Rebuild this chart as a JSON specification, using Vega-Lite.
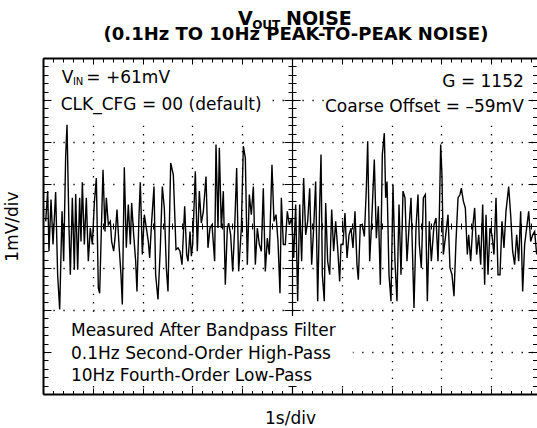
{
  "$schema": "https://vega.github.io/schema/vega-lite/v6.json",
  "width": 494,
  "height": 336,
  "autosize": {"type": "none"},
  "padding": {"left": 43, "top": 58, "right": 0, "bottom": 34},
  "background": "white",
  "config": {
    "view": {"stroke": null},
    "axis": {"labels": false, "domainColor": "black", "tickColor": "black", "gridColor": "black", "grid": false, "ticks": true, "tickWidth": 1, "titleFont": "DejaVu Sans", "titleFontSize": 17, "titleFontWeight": "normal", "titleColor": "black"}
  },
  "datasets": {
    "noise": [
      {"t":0.054,"v":0.11},{"t":0.094,"v":0.83},{"t":0.120,"v":-0.60},{"t":0.161,"v":0.63},{"t":0.201,"v":-0.44},{"t":0.254,"v":0.81},{"t":0.294,"v":-1.16},{"t":0.335,"v":-1.99},{"t":0.382,"v":0.35},{"t":0.415,"v":-0.84},{"t":0.455,"v":1.66},{"t":0.482,"v":2.41},{"t":0.522,"v":-0.05},{"t":0.549,"v":-1.16},{"t":0.589,"v":0.67},{"t":0.629,"v":-1.04},{"t":0.656,"v":0.76},{"t":0.696,"v":-1.04},{"t":0.736,"v":0.67},{"t":0.763,"v":-0.37},{"t":0.790,"v":1.04},{"t":0.830,"v":-0.44},{"t":0.870,"v":0.67},{"t":0.910,"v":-0.84},{"t":0.950,"v":-0.05},{"t":0.991,"v":-0.44},{"t":1.031,"v":0.55},{"t":1.071,"v":1.14},{"t":1.111,"v":-1.48},{"t":1.138,"v":-1.60},{"t":1.178,"v":0.19},{"t":1.205,"v":1.34},{"t":1.245,"v":-0.13},{"t":1.272,"v":0.67},{"t":1.312,"v":0.03},{"t":1.352,"v":0.11},{"t":1.379,"v":-0.37},{"t":1.419,"v":-0.60},{"t":1.446,"v":-0.29},{"t":1.486,"v":0.39},{"t":1.526,"v":-0.44},{"t":1.566,"v":-1.16},{"t":1.593,"v":-1.87},{"t":1.633,"v":1.40},{"t":1.673,"v":-0.52},{"t":1.713,"v":0.51},{"t":1.754,"v":-0.44},{"t":1.780,"v":0.55},{"t":1.821,"v":-0.21},{"t":1.861,"v":-0.84},{"t":1.887,"v":-1.56},{"t":1.928,"v":0.27},{"t":1.954,"v":1.04},{"t":1.995,"v":-0.68},{"t":2.035,"v":0.27},{"t":2.075,"v":-0.05},{"t":2.115,"v":-0.37},{"t":2.142,"v":-0.76},{"t":2.182,"v":0.11},{"t":2.229,"v":0.94},{"t":2.262,"v":-1.16},{"t":2.309,"v":-1.75},{"t":2.356,"v":-0.52},{"t":2.396,"v":0.94},{"t":2.436,"v":0.43},{"t":2.477,"v":-1.00},
      {"t":2.510,"v":-1.56},{"t":2.564,"v":1.50},{"t":2.617,"v":1.22},{"t":2.671,"v":-0.56},{"t":2.711,"v":-0.52},{"t":2.751,"v":-0.60},{"t":2.791,"v":-0.92},{"t":2.845,"v":0.47},{"t":2.885,"v":-0.68},{"t":2.912,"v":-0.84},{"t":2.952,"v":-0.13},{"t":2.979,"v":-0.72},{"t":3.005,"v":-0.44},{"t":3.059,"v":1.30},{"t":3.099,"v":-0.60},{"t":3.139,"v":0.83},{"t":3.179,"v":0.07},{"t":3.220,"v":0.35},{"t":3.273,"v":1.18},{"t":3.313,"v":-0.52},{"t":3.353,"v":-0.05},{"t":3.394,"v":0.03},{"t":3.447,"v":-0.84},{"t":3.474,"v":1.94},{"t":3.514,"v":-0.05},{"t":3.541,"v":1.86},{"t":3.581,"v":-0.05},{"t":3.621,"v":0.83},{"t":3.661,"v":-1.40},{"t":3.702,"v":-0.05},{"t":3.728,"v":0.07},{"t":3.768,"v":-0.21},{"t":3.809,"v":-1.08},{"t":3.849,"v":-0.05},{"t":3.889,"v":1.38},{"t":3.929,"v":-1.08},{"t":3.983,"v":-0.05},{"t":4.023,"v":1.90},{"t":4.063,"v":1.62},{"t":4.103,"v":-0.92},{"t":4.143,"v":0.75},{"t":4.183,"v":0.27},{"t":4.224,"v":0.94},{"t":4.264,"v":-0.92},{"t":4.304,"v":-0.05},{"t":4.344,"v":-0.44},{"t":4.384,"v":-0.60},{"t":4.424,"v":0.90},{"t":4.464,"v":-1.08},{"t":4.505,"v":-0.29},{"t":4.545,"v":-0.68},{"t":4.598,"v":1.46},{"t":4.638,"v":0.11},{"t":4.679,"v":0.27},{"t":4.719,"v":-0.37},{"t":4.759,"v":-1.60},{"t":4.786,"v":0.67},{"t":4.826,"v":-0.44},{"t":4.866,"v":-0.44},{"t":4.906,"v":0.35},{"t":4.946,"v":0.03},
      {"t":4.994,"v":0.19},{"t":5.034,"v":-0.76},{"t":5.074,"v":0.51},{"t":5.114,"v":-1.79},{"t":5.154,"v":0.51},{"t":5.194,"v":-0.84},{"t":5.234,"v":1.14},{"t":5.275,"v":-0.21},{"t":5.315,"v":0.11},{"t":5.355,"v":0.90},{"t":5.395,"v":-0.92},{"t":5.435,"v":-0.05},{"t":5.475,"v":1.06},{"t":5.516,"v":-1.79},{"t":5.556,"v":0.51},{"t":5.583,"v":1.70},{"t":5.609,"v":-1.16},{"t":5.649,"v":-1.79},{"t":5.676,"v":0.55},{"t":5.716,"v":-0.84},{"t":5.757,"v":-1.16},{"t":5.797,"v":0.39},{"t":5.837,"v":-0.60},{"t":5.877,"v":0.11},{"t":5.917,"v":-0.52},{"t":5.957,"v":-1.32},{"t":5.984,"v":-0.44},{"t":6.024,"v":-0.44},{"t":6.064,"v":0.31},{"t":6.105,"v":-0.76},{"t":6.145,"v":-0.21},{"t":6.185,"v":-0.05},{"t":6.225,"v":-0.52},{"t":6.265,"v":0.35},{"t":6.305,"v":-0.92},{"t":6.332,"v":-1.28},{"t":6.372,"v":0.03},{"t":6.412,"v":0.03},{"t":6.453,"v":-0.25},{"t":6.493,"v":0.90},{"t":6.520,"v":2.02},{"t":6.560,"v":-0.84},{"t":6.600,"v":0.11},{"t":6.653,"v":1.58},{"t":6.694,"v":-0.29},{"t":6.734,"v":0.47},{"t":6.774,"v":-1.40},{"t":6.814,"v":1.70},{"t":6.854,"v":2.21},{"t":6.881,"v":0.67},{"t":6.908,"v":1.06},{"t":6.948,"v":-1.16},{"t":6.988,"v":-1.79},{"t":7.028,"v":0.98},{"t":7.068,"v":-0.84},{"t":7.108,"v":-1.79},{"t":7.149,"v":0.51},{"t":7.189,"v":-1.16},{"t":7.229,"v":0.83},{"t":7.269,"v":0.67},{"t":7.309,"v":-0.84},{"t":7.349,"v":-0.05},{"t":7.390,"v":0.67},
      {"t":7.450,"v":-1.95},{"t":7.490,"v":-0.05},{"t":7.530,"v":0.75},{"t":7.557,"v":-0.44},{"t":7.597,"v":-1.00},{"t":7.638,"v":0.67},{"t":7.678,"v":0.75},{"t":7.718,"v":-1.79},{"t":7.758,"v":0.11},{"t":7.798,"v":-0.84},{"t":7.852,"v":0.03},{"t":7.892,"v":0.19},{"t":7.932,"v":-0.84},{"t":7.959,"v":0.27},{"t":7.986,"v":1.94},{"t":8.012,"v":1.18},{"t":8.039,"v":-0.68},{"t":8.079,"v":-0.29},{"t":8.133,"v":0.27},{"t":8.173,"v":-1.00},{"t":8.213,"v":-1.16},{"t":8.253,"v":-1.67},{"t":8.293,"v":-0.37},{"t":8.334,"v":0.67},{"t":8.374,"v":0.75},{"t":8.401,"v":0.90},{"t":8.441,"v":0.59},{"t":8.481,"v":0.43},{"t":8.521,"v":-0.68},{"t":8.548,"v":-0.21},{"t":8.588,"v":-0.84},{"t":8.628,"v":-0.05},{"t":8.668,"v":0.43},{"t":8.708,"v":-0.68},{"t":8.749,"v":-0.21},{"t":8.789,"v":-0.92},{"t":8.829,"v":0.51},{"t":8.869,"v":-1.40},{"t":8.896,"v":0.27},{"t":8.936,"v":-1.16},{"t":8.976,"v":-0.05},{"t":9.016,"v":-0.21},{"t":9.056,"v":-0.68},{"t":9.097,"v":0.67},{"t":9.137,"v":-1.16},{"t":9.177,"v":-1.16},{"t":9.217,"v":0.11},{"t":9.257,"v":-0.52},{"t":9.297,"v":0.35},{"t":9.351,"v":0.94},{"t":9.391,"v":0.27},{"t":9.431,"v":-0.60},{"t":9.471,"v":-0.92},{"t":9.512,"v":-0.21},{"t":9.552,"v":-0.84},{"t":9.592,"v":0.35},{"t":9.632,"v":-1.56},{"t":9.672,"v":-0.44},{"t":9.712,"v":-0.05},{"t":9.753,"v":0.35},{"t":9.793,"v":-0.37},{"t":9.833,"v":-0.21},{"t":9.873,"v":-0.13},{"t":9.913,"v":-0.68}
    ]
  },
  "resolve": {"axis": {"x": "independent", "y": "independent"}},
  "layer": [
    {
      "data": {"name": "noise"},
      "mark": {"type": "point", "opacity": 0},
      "encoding": {
        "x": {"field": "t", "type": "quantitative", "scale": {"domain": [0, 9.92], "nice": false, "zero": false},
          "axis": {"orient": "bottom", "values": [0,0.2,0.4,0.6,0.8,1,1.2,1.4,1.6,1.8,2,2.2,2.4,2.6,2.8,3,3.2,3.4,3.6,3.8,4,4.2,4.4,4.6,4.8,5,5.2,5.4,5.6,5.8,6,6.2,6.4,6.6,6.8,7,7.2,7.4,7.6,7.8,8,8.2,8.4,8.6,8.8,9,9.2,9.4,9.6,9.8],
            "domain": true, "domainWidth": 2,
            "tickSize": {"condition": {"test": "datum.value % 1 === 0", "value": -6}, "value": -3.5},
            "grid": true, "gridWidth": 1.3, "gridDash": [1.3, 7.1],
            "gridOpacity": {"condition": {"test": "datum.value % 1 === 0 && datum.value !== 0 && datum.value !== 5", "value": 1}, "value": 0},
            "title": "1s/div", "titleBaseline": "alphabetic", "titlePadding": 29}},
        "y": {"field": "v", "type": "quantitative", "scale": {"domain": [-4, 4], "nice": false, "zero": false},
          "axis": {"orient": "left", "values": [-4,-3.8,-3.6,-3.4,-3.2,-3,-2.8,-2.6,-2.4,-2.2,-2,-1.8,-1.6,-1.4,-1.2,-1,-0.8,-0.6,-0.4,-0.2,0,0.2,0.4,0.6,0.8,1,1.2,1.4,1.6,1.8,2,2.2,2.4,2.6,2.8,3,3.2,3.4,3.6,3.8,4],
            "domain": true, "domainWidth": 2,
            "tickSize": {"condition": {"test": "datum.value % 1 === 0", "value": -8}, "value": -5},
            "grid": true, "gridWidth": 1.3, "gridDash": [1.3, 8.66],
            "gridOpacity": {"condition": {"test": "datum.value % 1 === 0 && datum.value !== 0 && datum.value !== 4 && datum.value !== -4", "value": 1}, "value": 0},
            "title": "1mV/div", "titlePadding": 21}}
      }
    },
    {
      "data": {"name": "noise"},
      "mark": {"type": "point", "opacity": 0},
      "encoding": {
        "x": {"field": "t", "type": "quantitative", "scale": {"domain": [0, 9.92], "nice": false, "zero": false},
          "axis": {"orient": "top", "values": [0,0.2,0.4,0.6,0.8,1,1.2,1.4,1.6,1.8,2,2.2,2.4,2.6,2.8,3,3.2,3.4,3.6,3.8,4,4.2,4.4,4.6,4.8,5,5.2,5.4,5.6,5.8,6,6.2,6.4,6.6,6.8,7,7.2,7.4,7.6,7.8,8,8.2,8.4,8.6,8.8,9,9.2,9.4,9.6,9.8],
            "domain": true, "domainWidth": 2,
            "tickSize": {"condition": {"test": "datum.value % 1 === 0", "value": -6}, "value": -4},
            "title": null}},
        "y": {"field": "v", "type": "quantitative", "scale": {"domain": [-4, 4], "nice": false, "zero": false},
          "axis": {"orient": "right", "values": [-4,-3.8,-3.6,-3.4,-3.2,-3,-2.8,-2.6,-2.4,-2.2,-2,-1.8,-1.6,-1.4,-1.2,-1,-0.8,-0.6,-0.4,-0.2,0,0.2,0.4,0.6,0.8,1,1.2,1.4,1.6,1.8,2,2.2,2.4,2.6,2.8,3,3.2,3.4,3.6,3.8,4],
            "domain": false,
            "tickSize": {"condition": {"test": "datum.value % 1 === 0", "value": -9}, "value": -4.5},
            "title": null}}
      }
    },
    {
      "data": {"name": "noise"},
      "mark": {"type": "point", "opacity": 0},
      "encoding": {
        "x": {"field": "t", "type": "quantitative", "scale": {"domain": [0, 9.92], "nice": false, "zero": false},
          "axis": {"orient": "bottom", "offset": -168, "values": [0,0.2,0.4,0.6,0.8,1,1.2,1.4,1.6,1.8,2,2.2,2.4,2.6,2.8,3,3.2,3.4,3.6,3.8,4,4.2,4.4,4.6,4.8,5,5.2,5.4,5.6,5.8,6,6.2,6.4,6.6,6.8,7,7.2,7.4,7.6,7.8,8,8.2,8.4,8.6,8.8,9,9.2,9.4,9.6,9.8],
            "domain": true, "domainWidth": 1.2,
            "tickSize": {"condition": {"test": "datum.value % 1 === 0", "value": 6}, "value": 3},
            "title": null}},
        "y": {"field": "v", "type": "quantitative", "scale": {"domain": [-4, 4], "nice": false, "zero": false},
          "axis": {"orient": "left", "offset": -249, "values": [-4,-3.8,-3.6,-3.4,-3.2,-3,-2.8,-2.6,-2.4,-2.2,-2,-1.8,-1.6,-1.4,-1.2,-1,-0.8,-0.6,-0.4,-0.2,0,0.2,0.4,0.6,0.8,1,1.2,1.4,1.6,1.8,2,2.2,2.4,2.6,2.8,3,3.2,3.4,3.6,3.8,4],
            "domain": true, "domainWidth": 1.2,
            "tickSize": {"condition": {"test": "datum.value % 1 === 0", "value": 8}, "value": 4},
            "title": null}}
      }
    },
    {
      "data": {"name": "noise"},
      "mark": {"type": "point", "opacity": 0},
      "encoding": {
        "x": {"field": "t", "type": "quantitative", "scale": {"domain": [0, 9.92], "nice": false, "zero": false},
          "axis": {"orient": "top", "offset": -168, "values": [0,0.2,0.4,0.6,0.8,1,1.2,1.4,1.6,1.8,2,2.2,2.4,2.6,2.8,3,3.2,3.4,3.6,3.8,4,4.2,4.4,4.6,4.8,5,5.2,5.4,5.6,5.8,6,6.2,6.4,6.6,6.8,7,7.2,7.4,7.6,7.8,8,8.2,8.4,8.6,8.8,9,9.2,9.4,9.6,9.8],
            "domain": false,
            "tickSize": {"condition": {"test": "datum.value % 1 === 0", "value": 6}, "value": 3},
            "title": null}},
        "y": {"field": "v", "type": "quantitative", "scale": {"domain": [-4, 4], "nice": false, "zero": false},
          "axis": {"orient": "right", "offset": -245, "values": [-4,-3.8,-3.6,-3.4,-3.2,-3,-2.8,-2.6,-2.4,-2.2,-2,-1.8,-1.6,-1.4,-1.2,-1,-0.8,-0.6,-0.4,-0.2,0,0.2,0.4,0.6,0.8,1,1.2,1.4,1.6,1.8,2,2.2,2.4,2.6,2.8,3,3.2,3.4,3.6,3.8,4],
            "domain": false,
            "tickSize": {"condition": {"test": "datum.value % 1 === 0", "value": 8}, "value": 4},
            "title": null}}
      }
    },
    {
      "data": {"values": [{}]},
      "mark": {"type": "rect", "color": "white"},
      "encoding": {
        "x": {"datum": 0.18, "type": "quantitative", "scale": {"domain": [0, 9.92], "nice": false, "zero": false}, "axis": null},
        "x2": {"datum": 4.52},
        "y": {"datum": 3.833, "type": "quantitative", "scale": {"domain": [-4, 4], "nice": false, "zero": false}, "axis": null},
        "y2": {"datum": 2.548}
      }
    },
    {
      "data": {"values": [{}]},
      "mark": {"type": "rect", "color": "white"},
      "encoding": {
        "x": {"datum": 5.66, "type": "quantitative", "scale": {"domain": [0, 9.92], "nice": false, "zero": false}, "axis": null},
        "x2": {"datum": 9.73},
        "y": {"datum": 3.833, "type": "quantitative", "scale": {"domain": [-4, 4], "nice": false, "zero": false}, "axis": null},
        "y2": {"datum": 2.548}
      }
    },
    {
      "data": {"values": [{}]},
      "mark": {"type": "rect", "color": "white"},
      "encoding": {
        "x": {"datum": 0.18, "type": "quantitative", "scale": {"domain": [0, 9.92], "nice": false, "zero": false}, "axis": null},
        "x2": {"datum": 6.22},
        "y": {"datum": -2.143, "type": "quantitative", "scale": {"domain": [-4, 4], "nice": false, "zero": false}, "axis": null},
        "y2": {"datum": -3.81}
      }
    },
    {
      "data": {"name": "noise"},
      "mark": {"type": "line", "color": "black", "strokeWidth": 1.4},
      "encoding": {
        "x": {"field": "t", "type": "quantitative", "scale": {"domain": [0, 9.92], "nice": false, "zero": false}, "axis": null},
        "y": {"field": "v", "type": "quantitative", "scale": {"domain": [-4, 4], "nice": false, "zero": false}, "axis": null}
      }
    },
    {
      "data": {"values": [{}]},
      "layer": [
        {"mark": {"type": "text", "text": "V", "font": "DejaVu Sans", "fontWeight": "bold", "fontSize": 19, "align": "left", "baseline": "alphabetic", "color": "black"},
         "encoding": {"x": {"datum": 3.916, "type": "quantitative", "scale": {"domain": [0, 9.92], "nice": false, "zero": false}, "axis": null}, "y": {"datum": 4.79, "type": "quantitative", "scale": {"domain": [-4, 4], "nice": false, "zero": false}, "axis": null}}},
        {"mark": {"type": "text", "text": "OUT", "font": "DejaVu Sans", "fontWeight": "bold", "fontSize": 12, "align": "left", "baseline": "alphabetic", "color": "black"},
         "encoding": {"x": {"datum": 4.2, "type": "quantitative", "scale": {"domain": [0, 9.92], "nice": false, "zero": false}, "axis": null}, "y": {"datum": 4.69, "type": "quantitative", "scale": {"domain": [-4, 4], "nice": false, "zero": false}, "axis": null}}},
        {"mark": {"type": "text", "text": "NOISE", "font": "DejaVu Sans", "fontWeight": "bold", "fontSize": 19, "align": "left", "baseline": "alphabetic", "color": "black"},
         "encoding": {"x": {"datum": 4.88, "type": "quantitative", "scale": {"domain": [0, 9.92], "nice": false, "zero": false}, "axis": null}, "y": {"datum": 4.79, "type": "quantitative", "scale": {"domain": [-4, 4], "nice": false, "zero": false}, "axis": null}}},
        {"mark": {"type": "text", "text": "(0.1Hz TO 10Hz PEAK-TO-PEAK NOISE)", "font": "DejaVu Sans", "fontWeight": "bold", "fontSize": 18, "align": "center", "baseline": "alphabetic", "color": "black"},
         "encoding": {"x": {"datum": 5.08, "type": "quantitative", "scale": {"domain": [0, 9.92], "nice": false, "zero": false}, "axis": null}, "y": {"datum": 4.43, "type": "quantitative", "scale": {"domain": [-4, 4], "nice": false, "zero": false}, "axis": null}}},
        {"mark": {"type": "text", "text": "V", "font": "DejaVu Sans", "fontSize": 17, "align": "left", "baseline": "alphabetic", "color": "black"},
         "encoding": {"x": {"datum": 0.375, "type": "quantitative", "scale": {"domain": [0, 9.92], "nice": false, "zero": false}, "axis": null}, "y": {"datum": 3.398, "type": "quantitative", "scale": {"domain": [-4, 4], "nice": false, "zero": false}, "axis": null}}},
        {"mark": {"type": "text", "text": "IN", "font": "DejaVu Sans", "fontSize": 10, "align": "left", "baseline": "alphabetic", "color": "black"},
         "encoding": {"x": {"datum": 0.6, "type": "quantitative", "scale": {"domain": [0, 9.92], "nice": false, "zero": false}, "axis": null}, "y": {"datum": 3.357, "type": "quantitative", "scale": {"domain": [-4, 4], "nice": false, "zero": false}, "axis": null}}},
        {"mark": {"type": "text", "text": "= +61mV", "font": "DejaVu Sans", "fontSize": 17, "align": "left", "baseline": "alphabetic", "color": "black"},
         "encoding": {"x": {"datum": 0.87, "type": "quantitative", "scale": {"domain": [0, 9.92], "nice": false, "zero": false}, "axis": null}, "y": {"datum": 3.398, "type": "quantitative", "scale": {"domain": [-4, 4], "nice": false, "zero": false}, "axis": null}}},
        {"mark": {"type": "text", "text": "CLK_CFG = 00 (default)", "font": "DejaVu Sans", "fontSize": 17, "align": "left", "baseline": "alphabetic", "color": "black"},
         "encoding": {"x": {"datum": 0.355, "type": "quantitative", "scale": {"domain": [0, 9.92], "nice": false, "zero": false}, "axis": null}, "y": {"datum": 2.77, "type": "quantitative", "scale": {"domain": [-4, 4], "nice": false, "zero": false}, "axis": null}}},
        {"mark": {"type": "text", "text": "G = 1152", "font": "DejaVu Sans", "fontSize": 17, "align": "right", "baseline": "alphabetic", "color": "black"},
         "encoding": {"x": {"datum": 9.655, "type": "quantitative", "scale": {"domain": [0, 9.92], "nice": false, "zero": false}, "axis": null}, "y": {"datum": 3.302, "type": "quantitative", "scale": {"domain": [-4, 4], "nice": false, "zero": false}, "axis": null}}},
        {"mark": {"type": "text", "text": "Coarse Offset = –59mV", "font": "DejaVu Sans", "fontSize": 17, "align": "right", "baseline": "alphabetic", "color": "black"},
         "encoding": {"x": {"datum": 9.655, "type": "quantitative", "scale": {"domain": [0, 9.92], "nice": false, "zero": false}, "axis": null}, "y": {"datum": 2.721, "type": "quantitative", "scale": {"domain": [-4, 4], "nice": false, "zero": false}, "axis": null}}},
        {"mark": {"type": "text", "text": "Measured After Bandpass Filter", "font": "DejaVu Sans", "fontSize": 17, "align": "left", "baseline": "alphabetic", "color": "black"},
         "encoding": {"x": {"datum": 0.562, "type": "quantitative", "scale": {"domain": [0, 9.92], "nice": false, "zero": false}, "axis": null}, "y": {"datum": -2.612, "type": "quantitative", "scale": {"domain": [-4, 4], "nice": false, "zero": false}, "axis": null}}},
        {"mark": {"type": "text", "text": "0.1Hz Second-Order High-Pass", "font": "DejaVu Sans", "fontSize": 17, "align": "left", "baseline": "alphabetic", "color": "black"},
         "encoding": {"x": {"datum": 0.562, "type": "quantitative", "scale": {"domain": [0, 9.92], "nice": false, "zero": false}, "axis": null}, "y": {"datum": -3.174, "type": "quantitative", "scale": {"domain": [-4, 4], "nice": false, "zero": false}, "axis": null}}},
        {"mark": {"type": "text", "text": "10Hz Fourth-Order Low-Pass", "font": "DejaVu Sans", "fontSize": 17, "align": "left", "baseline": "alphabetic", "color": "black"},
         "encoding": {"x": {"datum": 0.562, "type": "quantitative", "scale": {"domain": [0, 9.92], "nice": false, "zero": false}, "axis": null}, "y": {"datum": -3.679, "type": "quantitative", "scale": {"domain": [-4, 4], "nice": false, "zero": false}, "axis": null}}}
      ]
    }
  ]
}
